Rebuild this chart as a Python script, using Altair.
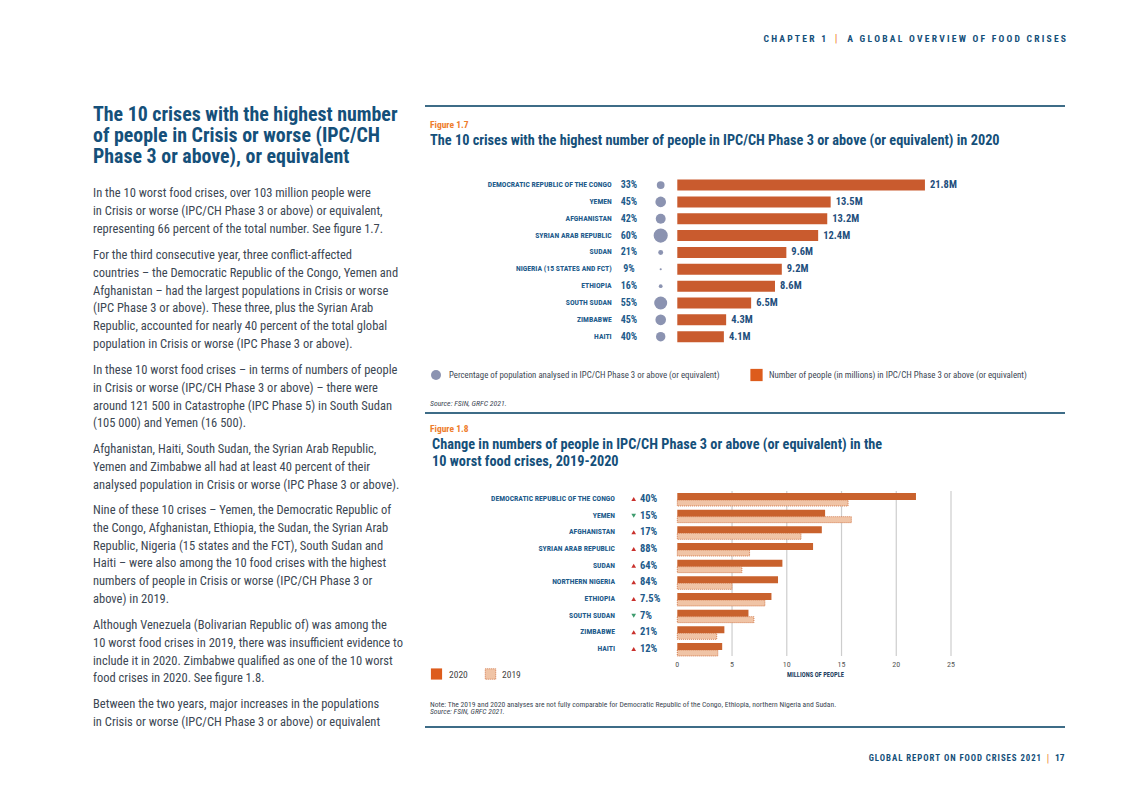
import altair as alt
import pandas as pd

# ---------------- data ----------------
countries17 = ["DEMOCRATIC REPUBLIC OF THE CONGO", "YEMEN", "AFGHANISTAN", "SYRIAN ARAB REPUBLIC",
               "SUDAN", "NIGERIA (15 STATES AND FCT)", "ETHIOPIA", "SOUTH SUDAN", "ZIMBABWE", "HAITI"]
pct17 = [33, 45, 42, 60, 21, 9, 16, 55, 45, 40]
people2020 = [21.8, 13.5, 13.2, 12.4, 9.6, 9.2, 8.6, 6.5, 4.3, 4.1]

countries18 = ["DEMOCRATIC REPUBLIC OF THE CONGO", "YEMEN", "AFGHANISTAN", "SYRIAN ARAB REPUBLIC",
               "SUDAN", "NORTHERN NIGERIA", "ETHIOPIA", "SOUTH SUDAN", "ZIMBABWE", "HAITI"]
people2019 = [15.6, 15.9, 11.3, 6.6, 5.9, 5.0, 8.0, 7.0, 3.6, 3.7]
change18 = [40, -15, 17, 88, 64, 84, 7.5, -7, 21, 12]
ticks18 = [0, 5, 10, 15, 20, 25]

# ---------------- style ----------------
FONT = "Liberation Sans Narrow, Roboto Condensed, Open Sans, sans-serif"
DARK = "#15507a"
LABEL = "#225b8b"
BODY = "#3c4753"
FIGOR = "#ee7d2c"
BAR = "#c95b2e"
BAR2 = "#c9622d"
PEACH = "#f0c4a6"
CIRC = "#8b93b1"
RULE = "#3e6c87"
VAL = "#1f4f7d"


def P(v):
    return v - 8


one = alt.Data(values=[{"k": 1}])


def text_block(lines, x, y, size, color, weight="normal", align="left", style="normal",
               line_height=None, baseline="alphabetic"):
    kw = dict(align=align, baseline=baseline, fontSize=size, color=color,
              fontWeight=weight, fontStyle=style, font=FONT)
    if line_height:
        kw["lineHeight"] = line_height
    return alt.Chart(one).mark_text(**kw).encode(
        x=alt.value(P(x)), y=alt.value(P(y)), text=alt.value(lines))


def hrule(x1, x2, y, color=RULE, w=2):
    return alt.Chart(one).mark_rule(color=color, strokeWidth=w).encode(
        x=alt.value(P(x1)), x2=alt.value(P(x2)), y=alt.value(P(y)))


def spaced(s, sep="\u00a0"):
    words = s.split(" ")
    return ("\u00a0" + sep * 2).join(sep.join(list(w)) for w in words)


layers = []

# ---------------- page header / footer ----------------
layers.append(text_block(spaced("A GLOBAL OVERVIEW OF FOOD CRISES"), 1066, 41.5, 9.6, DARK, "bold", "right"))
layers.append(text_block("|", 836, 42, 11, FIGOR, "normal", "center"))
layers.append(text_block(spaced("CHAPTER 1"), 826, 41.5, 9.6, DARK, "bold", "right"))
layers.append(text_block(spaced("GLOBAL REPORT ON FOOD CRISES 2021", "\u200a"), 1041, 761, 8.8, DARK, "bold", "right"))
layers.append(text_block("|", 1048, 761.5, 10, FIGOR, "normal", "center"))
layers.append(text_block("17", 1055, 761, 9.5, DARK, "bold", "left"))

# ---------------- left column ----------------
layers.append(text_block(["The 10 crises with the highest number",
                          "of people in Crisis or worse (IPC/CH",
                          "Phase 3 or above), or equivalent"],
                         93, 120.5, 19.9, DARK, "bold", line_height=21.3))
paras = [
    (197, ["In the 10 worst food crises, over 103 million people were",
           "in Crisis or worse (IPC/CH Phase 3 or above) or equivalent,",
           "representing 66 percent of the total number. See figure 1.7."]),
    (259, ["For the third consecutive year, three conflict-affected",
           "countries \u2013 the Democratic Republic of the Congo, Yemen and",
           "Afghanistan \u2013 had the largest populations in Crisis or worse",
           "(IPC Phase 3 or above). These three, plus the Syrian Arab",
           "Republic, accounted for nearly 40 percent of the total global",
           "population in Crisis or worse (IPC Phase 3 or above)."]),
    (374, ["In these 10 worst food crises \u2013 in terms of numbers of people",
           "in Crisis or worse (IPC/CH Phase 3 or above) \u2013 there were",
           "around 121 500 in Catastrophe (IPC Phase 5) in South Sudan",
           "(105 000) and Yemen (16 500)."]),
    (453, ["Afghanistan, Haiti, South Sudan, the Syrian Arab Republic,",
           "Yemen and Zimbabwe all had at least 40 percent of their",
           "analysed population in Crisis or worse (IPC Phase 3 or above)."]),
    (514, ["Nine of these 10 crises \u2013 Yemen, the Democratic Republic of",
           "the Congo, Afghanistan, Ethiopia, the Sudan, the Syrian Arab",
           "Republic, Nigeria (15 states and the FCT), South Sudan and",
           "Haiti \u2013 were also among the 10 food crises with the highest",
           "numbers of people in Crisis or worse (IPC/CH Phase 3 or",
           "above) in 2019."]),
    (629, ["Although Venezuela (Bolivarian Republic of) was among the",
           "10 worst food crises in 2019, there was insufficient evidence to",
           "include it in 2020. Zimbabwe qualified as one of the 10 worst",
           "food crises in 2020. See figure 1.8."]),
    (708, ["Between the two years, major increases in the populations",
           "in Crisis or worse (IPC/CH Phase 3 or above) or equivalent"]),
]
for y0, lines in paras:
    layers.append(text_block(lines, 93, y0, 12.5, BODY, line_height=17.8))

# ---------------- right column frame ----------------
layers.append(hrule(425, 1065, 106))
layers.append(hrule(425, 1065, 413))
layers.append(hrule(425, 1065, 727))
layers.append(text_block("Figure 1.7", 430, 127.5, 9.5, FIGOR, "bold"))
layers.append(text_block("The 10 crises with the highest number of people in IPC/CH Phase 3 or above (or equivalent) in 2020",
                         430, 145, 14.3, DARK, "bold"))
layers.append(text_block("Figure 1.8", 430, 431.5, 9.5, FIGOR, "bold"))
layers.append(text_block(["Change in numbers of people in IPC/CH Phase 3 or above (or equivalent) in the",
                          "10 worst food crises, 2019-2020"], 432, 448.5, 14.3, DARK, "bold", line_height=17))

# ---------------- figure 1.7 ----------------
df17 = pd.DataFrame({"country": countries17, "pct": pct17, "people": people2020})
df17["pct_label"] = [f"{p}%" for p in pct17]
df17["val_label"] = [f"{v:.1f}M" for v in people2020]

y17 = alt.Y("country:N", scale=alt.Scale(domain=countries17, range=[P(176.6), P(345.1)],
                                          paddingInner=0, paddingOuter=0), axis=None)
x17 = alt.X("people:Q", scale=alt.Scale(domain=[0, 25], range=[P(677.3), P(961.3)]), axis=None)
base17 = alt.Chart(df17)
fig17 = alt.layer(
    base17.mark_bar(height=11, color=BAR).encode(x=x17, y=y17),
    base17.mark_text(align="left", baseline="middle", dx=5, fontSize=10.5, fontWeight="bold",
                     color=VAL, font=FONT).encode(x=x17, y=y17, text="val_label:N"),
    base17.mark_circle(color=CIRC, opacity=1).encode(
        x=alt.value(P(660.7)), y=y17,
        size=alt.Size("pct:Q", scale=alt.Scale(type="pow", exponent=2, domain=[0, 60], range=[0, 200]),
                      legend=None)),
    base17.mark_text(align="center", baseline="middle", fontSize=10, fontWeight="bold",
                     color=LABEL, font=FONT).encode(x=alt.value(P(629)), y=y17, text="pct_label:N"),
    base17.mark_text(align="right", baseline="middle", fontSize=7.7, fontWeight="bold",
                     color=LABEL, font=FONT).encode(x=alt.value(P(611.7)), y=y17, text="country:N"),
)
layers.append(fig17)

# legend 1.7
layers.append(alt.Chart(one).mark_circle(color=CIRC, size=100, opacity=1).encode(
    x=alt.value(P(436)), y=alt.value(P(375))))
layers.append(text_block("Percentage of population analysed in IPC/CH Phase 3 or above (or equivalent)",
                         449, 375, 8.8, BODY, baseline="middle"))
layers.append(alt.Chart(one).mark_square(color="#dd5c1c", size=150, opacity=1).encode(
    x=alt.value(P(756.5)), y=alt.value(P(375))))
layers.append(text_block("Number of people (in millions) in IPC/CH Phase 3 or above (or equivalent)",
                         769, 375, 8.9, BODY, baseline="middle"))
layers.append(text_block("Source: FSIN, GRFC 2021.", 430, 405.5, 7.8, BODY, style="italic"))

# ---------------- figure 1.8 ----------------
df18 = pd.DataFrame({"country": countries18, "v2020": people2020, "v2019": people2019, "chg": change18})
df18["dir"] = ["up" if c >= 0 else "down" for c in change18]
df18["chg_label"] = [f"{abs(c):g}%" for c in change18]
dft = pd.DataFrame({"t": ticks18})

y18 = alt.Y("country:N", scale=alt.Scale(domain=countries18, range=[P(490.67), P(657.33)],
                                          paddingInner=0, paddingOuter=0), axis=None)
xs18 = alt.Scale(domain=[0, 25], range=[P(677.3), P(951)])
base18 = alt.Chart(df18)
fig18 = alt.layer(
    alt.Chart(dft).transform_filter("datum.t > 0").mark_rule(color="#cdcdcd", strokeWidth=1.2).encode(
        x=alt.X("t:Q", scale=xs18, axis=None), y=alt.value(P(491)), y2=alt.value(P(656))),
    alt.Chart(dft).mark_text(baseline="middle", align="center", fontSize=8, color="#555555",
                             font=FONT).encode(
        x=alt.X("t:Q", scale=xs18, axis=None), y=alt.value(P(665)), text="t:N"),
    base18.mark_bar(height=7, yOffset=-2.5, color=BAR2).encode(
        x=alt.X("v2020:Q", scale=xs18, axis=None), y=y18),
    base18.mark_bar(height=6, yOffset=4, fill=PEACH, stroke=BAR2, strokeWidth=0.8,
                    strokeDash=[1, 1]).encode(
        x=alt.X("v2019:Q", scale=xs18, axis=None), y=y18),
    base18.mark_text(align="right", baseline="middle", fontSize=7.7, fontWeight="bold",
                     color=LABEL, font=FONT).encode(x=alt.value(P(615)), y=y18, text="country:N"),
    base18.mark_point(filled=True, size=22, opacity=1).encode(
        x=alt.value(P(633.7)), y=y18,
        shape=alt.Shape("dir:N", scale=alt.Scale(domain=["up", "down"],
                                                 range=["triangle-up", "triangle-down"]), legend=None),
        color=alt.Color("dir:N", scale=alt.Scale(domain=["up", "down"], range=["#c9302c", "#3f9c6e"]),
                        legend=None)),
    base18.mark_text(align="left", baseline="middle", fontSize=10.5, fontWeight="bold",
                     color=LABEL, font=FONT).encode(x=alt.value(P(640)), y=y18, text="chg_label:N"),
)
layers.append(fig18)
layers.append(text_block("MILLIONS OF PEOPLE", 815.5, 674.5, 6.5, "#1f3f5f", "bold", "center",
                         baseline="middle"))

# legend 1.8
layers.append(alt.Chart(one).mark_square(color="#dd5c1c", size=125, opacity=1).encode(
    x=alt.value(P(436.5)), y=alt.value(P(674))))
layers.append(text_block("2020", 449, 674.5, 9.5, "#444444", baseline="middle"))
layers.append(alt.Chart(one).mark_square(fill=PEACH, stroke=BAR2, strokeWidth=0.8, strokeDash=[1, 1],
                                         size=110, opacity=1).encode(
    x=alt.value(P(490.5)), y=alt.value(P(674))))
layers.append(text_block("2019", 502, 674.5, 9.5, "#444444", baseline="middle"))

layers.append(text_block("Note: The 2019 and 2020 analyses are not fully comparable for Democratic Republic of the Congo, Ethiopia, northern Nigeria and Sudan.",
                         430, 706.5, 7.6, BODY))
layers.append(text_block("Source: FSIN, GRFC 2021.", 430, 714, 7.6, BODY, style="italic"))

chart = alt.layer(*layers).resolve_scale(
    x="independent", y="independent", size="independent", color="independent", shape="independent"
).properties(
    width=1106, height=777, autosize=alt.AutoSizeParams(type="none"), padding=0,
    background="white"
).configure_view(stroke=None)

chart.save("out.html", embed_options={"renderer": "svg", "actions": False})
